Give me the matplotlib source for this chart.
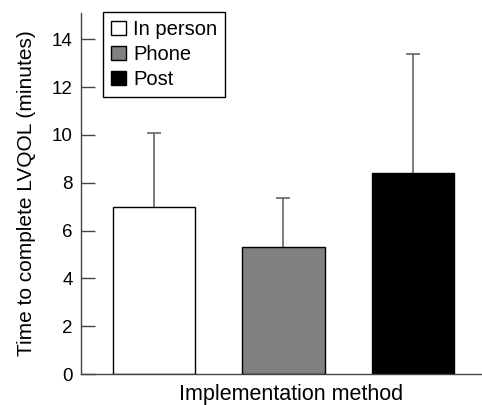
import matplotlib.pyplot as plt
from matplotlib.patches import Patch

plt.rcParams["font.family"] = ["Liberation Sans", "DejaVu Sans"]

# Daten
methods = ["In person", "Phone", "Post"]
mean_minutes = [7.0, 5.3, 8.4]
sd_minutes = [3.1, 2.05, 5.0]
bar_colors = ["white", "#808080", "black"]

fig = plt.figure(figsize=(4.82, 4.05), dpi=100)
ax = fig.add_axes([0.168, 0.0765, 0.832, 0.8914])

x = list(range(len(methods)))
ax.bar(x, mean_minutes, width=0.635, color=bar_colors, edgecolor="black",
       linewidth=1.0, zorder=2)
err = ax.errorbar(x, mean_minutes, yerr=[[0] * len(x), sd_minutes], fmt="none",
                  ecolor="#666666", elinewidth=1.2, capsize=4.7, capthick=1.2,
                  zorder=1)
# nur die obere Kappe behalten
err[1][0].set_visible(False)

ax.set_xlim(-0.564, 2.533)
ax.set_ylim(0, 15.1)
ax.set_yticks([0, 2, 4, 6, 8, 10, 12, 14])
ax.set_xticks([])

for side in ["top", "right"]:
    ax.spines[side].set_visible(False)
for side in ["left", "bottom"]:
    ax.spines[side].set_color("#444444")
    ax.spines[side].set_linewidth(1.0)

ax.tick_params(axis="y", direction="in", length=10, width=1.0,
               color="#444444", labelsize=13.5, pad=6)

ax.set_ylabel("Time to complete LVQOL (minutes)", fontsize=15, labelpad=11)
ax.set_xlabel("Implementation method", fontsize=15.5, labelpad=7)
ax.xaxis.label.set_x(0.525)

handles = [Patch(facecolor=c, edgecolor="black", label=m)
           for m, c in zip(methods, bar_colors)]
leg = ax.legend(handles=handles, loc="upper left",
                bbox_to_anchor=(103 / 482, 1 - 12 / 405),
                bbox_transform=fig.transFigure, borderaxespad=0,
                fontsize=14.5, handlelength=0.75, handleheight=0.75,
                handletextpad=0.35, labelspacing=0.3, borderpad=0.4,
                fancybox=False, framealpha=1)
leg.get_frame().set_edgecolor("black")
leg.get_frame().set_linewidth(1.0)

fig.savefig("out.png", dpi=100)
plt.close(fig)
